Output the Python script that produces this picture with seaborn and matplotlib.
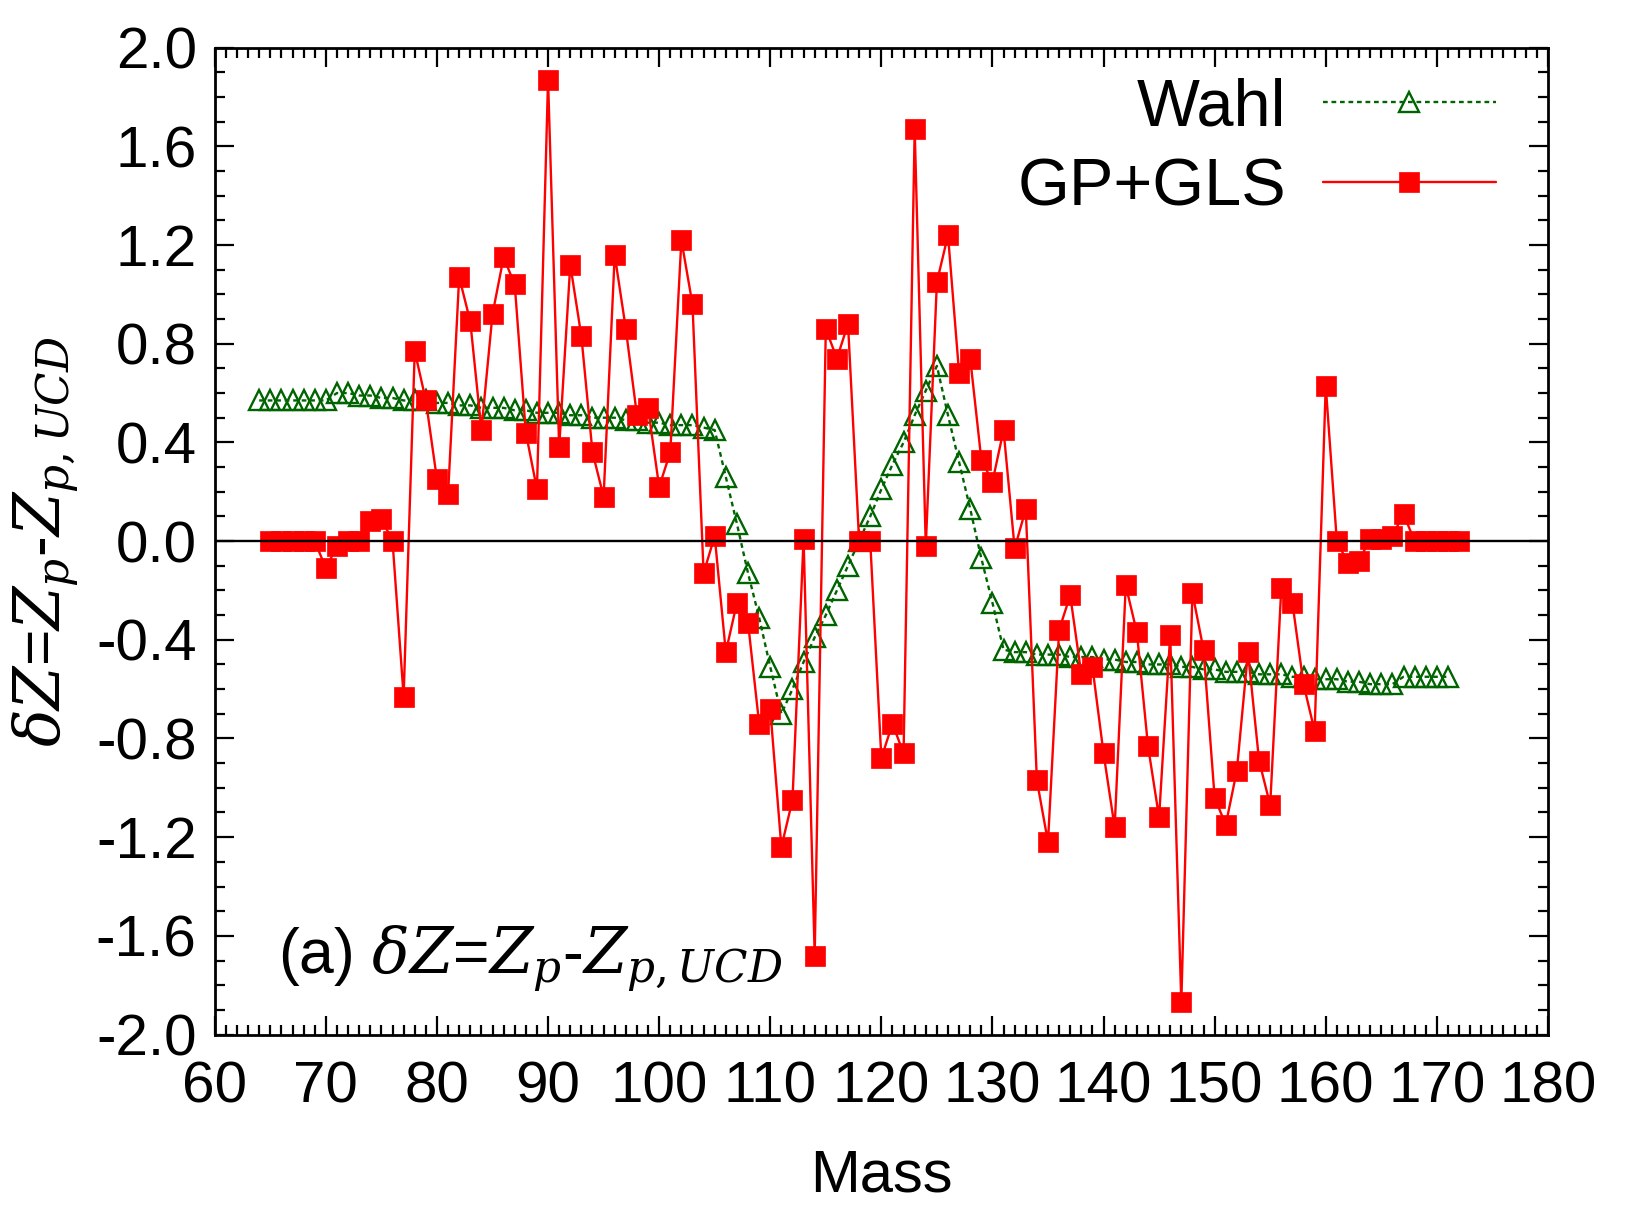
import matplotlib
matplotlib.use("Agg")
import matplotlib.pyplot as plt
from matplotlib.ticker import MultipleLocator, FormatStrFormatter
import seaborn as sns
import pandas as pd

# ---- data ----
wahl_mass = list(range(64, 172))
wahl_dz = [
    0.57, 0.57, 0.57, 0.57, 0.57, 0.57, 0.57,            # 64-70
    0.60, 0.60, 0.59, 0.59, 0.58, 0.58, 0.57, 0.57, 0.57, 0.56,  # 71-80
    0.56, 0.55, 0.55, 0.54, 0.54, 0.54, 0.53, 0.53, 0.52, 0.52,  # 81-90
    0.52, 0.51, 0.51, 0.50, 0.50, 0.50, 0.49, 0.49, 0.48, 0.48,  # 91-100
    0.47, 0.47, 0.47, 0.46, 0.45, 0.26, 0.07, -0.13, -0.31, -0.51,  # 101-110
    -0.70, -0.60, -0.49, -0.39, -0.30, -0.20, -0.10, 0.00, 0.10, 0.21,  # 111-120
    0.31, 0.40, 0.51, 0.61, 0.71, 0.51, 0.32, 0.13, -0.07, -0.25,  # 121-130
    -0.44, -0.45, -0.45, -0.46, -0.46, -0.46, -0.47, -0.47, -0.47, -0.48,  # 131-140
    -0.48, -0.49, -0.49, -0.50, -0.50, -0.50, -0.51, -0.51, -0.52, -0.52,  # 141-150
    -0.53, -0.53, -0.53, -0.54, -0.54, -0.54, -0.55, -0.55, -0.56, -0.56,  # 151-160
    -0.56, -0.57, -0.57, -0.58, -0.58, -0.58, -0.55, -0.55, -0.55, -0.55,  # 161-170
    -0.55,                                                 # 171
]

gls_mass = list(range(65, 173))
gls_dz = [
    0.00, 0.00, 0.00, 0.00, 0.00, -0.11,                   # 65-70
    -0.02, 0.00, 0.00, 0.08, 0.09, 0.00, -0.63, 0.77, 0.57, 0.25,  # 71-80
    0.19, 1.07, 0.89, 0.45, 0.92, 1.15, 1.04, 0.44, 0.21, 1.87,  # 81-90
    0.38, 1.12, 0.83, 0.36, 0.18, 1.16, 0.86, 0.51, 0.54, 0.22,  # 91-100
    0.36, 1.22, 0.96, -0.13, 0.02, -0.45, -0.25, -0.33, -0.74, -0.68,  # 101-110
    -1.24, -1.05, 0.01, -1.68, 0.86, 0.74, 0.88, 0.00, 0.00, -0.88,  # 111-120
    -0.74, -0.86, 1.67, -0.02, 1.05, 1.24, 0.68, 0.74, 0.33, 0.24,  # 121-130
    0.45, -0.03, 0.13, -0.97, -1.22, -0.36, -0.22, -0.54, -0.51, -0.86,  # 131-140
    -1.16, -0.18, -0.37, -0.83, -1.12, -0.38, -1.87, -0.21, -0.44, -1.04,  # 141-150
    -1.15, -0.93, -0.45, -0.89, -1.07, -0.19, -0.25, -0.58, -0.77, 0.63,  # 151-160
    0.00, -0.09, -0.08, 0.01, 0.01, 0.02, 0.11, 0.00, 0.00, 0.00,  # 161-170
    0.00, 0.00,                                            # 171-172
]

x_ticks = list(range(60, 181, 10))
y_ticks = [-2.0, -1.6, -1.2, -0.8, -0.4, 0.0, 0.4, 0.8, 1.2, 1.6, 2.0]

series_names = ["Wahl", "GP+GLS"]
panel_label = r"(a) $\delta Z$=$Z_p$-$Z_{p,UCD}$"
y_label = r"$\delta Z$=$Z_p$-$Z_{p,UCD}$"
x_label = "Mass"

# ---- style ----
sns.set_theme(style="ticks")
plt.rcParams["font.family"] = ["Liberation Sans", "DejaVu Sans"]
plt.rcParams["mathtext.fontset"] = "dejavuserif"
plt.rcParams["axes.unicode_minus"] = False
for key in ["text.color", "axes.labelcolor", "xtick.color", "ytick.color",
            "axes.edgecolor"]:
    plt.rcParams[key] = "black"

wahl_df = pd.DataFrame({"Mass": wahl_mass, "dZ": wahl_dz})
gls_df = pd.DataFrame({"Mass": gls_mass, "dZ": gls_dz})

fig = plt.figure(figsize=(16.27, 12.21), dpi=100)
ax = fig.add_axes([0.132, 0.1527, 0.8194, 0.8083])

green = "#006400"
red = "#ff0000"

sns.lineplot(data=wahl_df, x="Mass", y="dZ", ax=ax, color=green,
             linestyle=(0, (2.0, 1.6)), linewidth=1.7,
             marker="^", markersize=15, markerfacecolor="none",
             markeredgecolor=green, markeredgewidth=1.7,
             label=series_names[0], zorder=2)
sns.lineplot(data=gls_df, x="Mass", y="dZ", ax=ax, color=red,
             linewidth=1.7, marker="s", markersize=14,
             markerfacecolor=red, markeredgecolor=red, markeredgewidth=0.5,
             label=series_names[1], zorder=3)

ax.axhline(0.0, color="black", linewidth=1.7, zorder=4)

ax.set_xlim(60, 180)
ax.set_ylim(-2.0, 2.0)
ax.set_xticks(x_ticks)
ax.set_yticks(y_ticks)
ax.xaxis.set_minor_locator(MultipleLocator(1))
ax.yaxis.set_minor_locator(MultipleLocator(0.1))
ax.yaxis.set_major_formatter(FormatStrFormatter("%.1f"))

ax.tick_params(which="both", direction="in", top=True, right=True,
               color="black", width=1.6)
ax.tick_params(which="major", length=14, labelsize=42, labelcolor="black")
ax.tick_params(which="minor", length=7)
ax.tick_params(axis="x", which="major", pad=19)
ax.tick_params(axis="y", which="major", pad=13)
for s in ax.spines.values():
    s.set_linewidth(2.0)
    s.set_color("black")

ax.set_xlabel(x_label, fontsize=43, labelpad=24, color="black")
ax.set_ylabel(y_label, fontsize=45, color="black")
ax.yaxis.set_label_coords(-0.100, 0.5)

ax.text(65.7, -1.75, panel_label, fontsize=45, ha="left", va="baseline",
        color="black")

leg = ax.legend(loc="upper right", bbox_to_anchor=(0.981, 0.997),
                frameon=False, markerfirst=False, fontsize=48,
                handlelength=2.6, handletextpad=0.55, labelspacing=0.27,
                borderaxespad=0.0)
for t in leg.get_texts():
    t.set_color("black")

fig.savefig("out.png", dpi=100)
